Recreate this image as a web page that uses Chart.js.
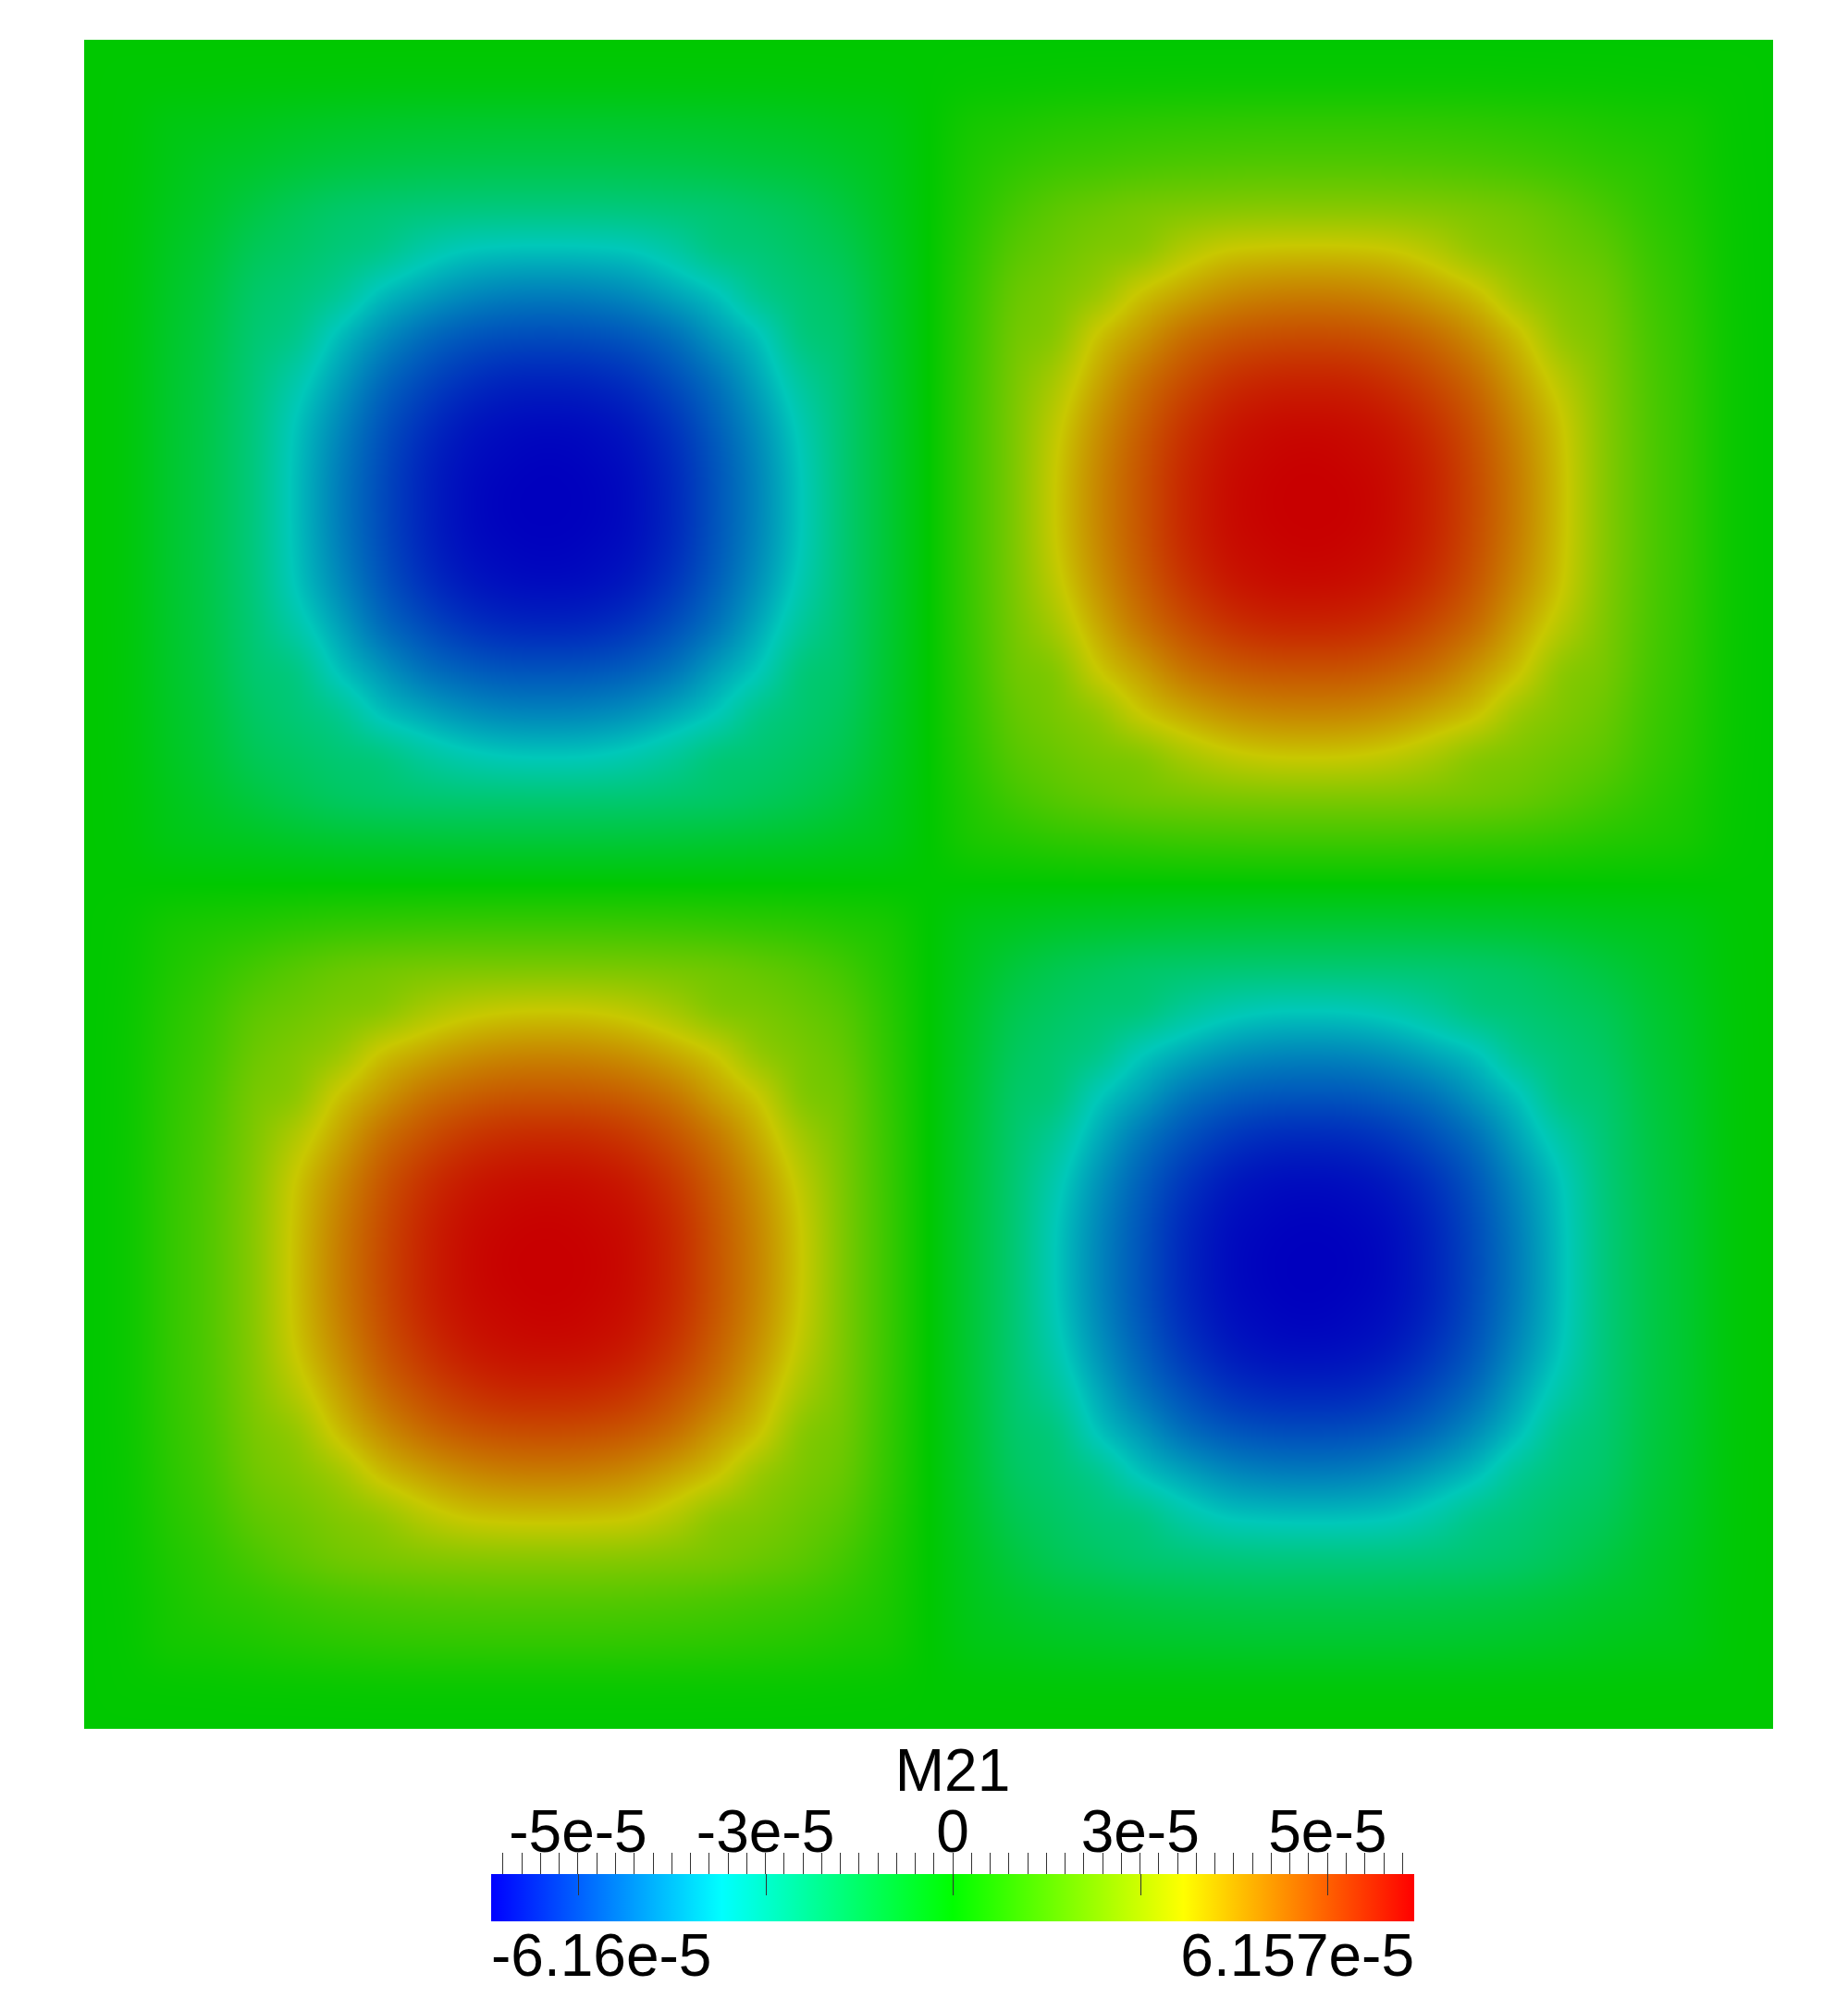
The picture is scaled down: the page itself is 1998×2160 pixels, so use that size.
<!DOCTYPE html>
<html>
<head>
<meta charset="utf-8">
<title>M21</title>
<script src="https://cdn.jsdelivr.net/npm/chart.js@4"></script>
<style>
    html, body { margin: 0; padding: 0; background: #fff; }
    #wrap { position: relative; width: 1998px; height: 2160px; overflow: hidden; }
    canvas { position: absolute; left: 0; }
</style>
</head>
<body>
<div id="wrap">
    <canvas id="fieldChart" width="1998" height="2160" style="top:0"></canvas>
    <canvas id="barChart" width="1998" height="290" style="top:1870px"></canvas>
</div>
<script>
// grid nodes of the field (fraction of the square side)
const gridNodes = [0, 0.025, 0.05, 0.075, 0.1, 0.125, 0.15, 0.175, 0.2, 0.225, 0.25, 0.275, 0.3, 0.325, 0.35, 0.375, 0.4, 0.425, 0.45, 0.475, 0.5,
    0.525, 0.55, 0.575, 0.6, 0.625, 0.65, 0.675, 0.7, 0.725, 0.75, 0.775, 0.8, 0.825, 0.85, 0.875, 0.9, 0.925, 0.95, 0.975, 1];

// M21, in units of 1e-7, one row per node from the top
const m21Rows = [
    [0,0,0,0,0,0,0,0,0,0,0,0,0,0,0,0,0,0,0,0,0,0,0,0,0,0,0,0,0,0,0,0,0,0,0,0,0,0,0,0,0],
    [0,-3,-6,-8,-11,-13,-15,-17,-18,-18,-18,-18,-18,-18,-17,-16,-15,-13,-10,-7,0,7,10,13,15,16,17,18,18,18,18,18,18,17,15,13,11,8,6,3,0],
    [0,-6,-26,-34,-43,-53,-61,-67,-71,-73,-74,-74,-74,-72,-69,-65,-59,-52,-41,-29,0,29,41,52,59,65,69,72,74,74,74,73,71,67,61,53,43,34,26,6,0],
    [0,-8,-34,-57,-73,-91,-106,-116,-123,-127,-129,-129,-129,-126,-121,-113,-102,-90,-70,-42,0,42,70,90,102,113,121,126,129,129,129,127,123,116,106,91,73,57,34,8,0],
    [0,-11,-43,-73,-110,-142,-168,-184,-198,-206,-209,-209,-209,-204,-194,-180,-161,-138,-102,-53,0,53,102,138,161,180,194,204,209,209,209,206,198,184,168,142,110,73,43,11,0],
    [0,-13,-53,-91,-142,-170,-200,-229,-277,-309,-320,-322,-319,-308,-272,-218,-195,-165,-130,-66,0,66,130,165,195,218,272,308,319,322,320,309,277,229,200,170,142,91,53,13,0],
    [0,-15,-61,-106,-168,-200,-246,-319,-365,-398,-415,-419,-414,-396,-359,-311,-237,-190,-154,-77,0,77,154,190,237,311,359,396,414,419,415,398,365,319,246,200,168,106,61,15,0],
    [0,-17,-67,-116,-184,-229,-319,-392,-444,-477,-493,-497,-492,-475,-439,-379,-312,-212,-169,-83,0,83,169,212,312,379,439,475,492,497,493,477,444,392,319,229,184,116,67,17,0],
    [0,-18,-71,-123,-198,-277,-365,-444,-497,-534,-554,-558,-553,-533,-491,-433,-354,-256,-181,-88,0,88,181,256,354,433,491,533,553,558,554,534,497,444,365,277,198,123,71,18,0],
    [0,-18,-73,-127,-206,-309,-398,-477,-534,-573,-591,-596,-591,-571,-528,-464,-386,-288,-188,-91,0,91,188,288,386,464,528,571,591,596,591,573,534,477,398,309,206,127,73,18,0],
    [0,-18,-74,-129,-209,-320,-415,-493,-554,-591,-607,-613,-607,-589,-547,-481,-403,-304,-190,-92,0,92,190,304,403,481,547,589,607,613,607,591,554,493,415,320,209,129,74,18,0],
    [0,-18,-74,-129,-209,-322,-419,-497,-558,-596,-613,-616,-612,-594,-552,-484,-407,-308,-191,-92,0,92,191,308,407,484,552,594,612,616,613,596,558,497,419,322,209,129,74,18,0],
    [0,-18,-74,-129,-209,-319,-414,-492,-553,-591,-607,-612,-606,-589,-547,-480,-402,-304,-190,-92,0,92,190,304,402,480,547,589,606,612,607,591,553,492,414,319,209,129,74,18,0],
    [0,-18,-72,-126,-204,-308,-396,-475,-533,-571,-589,-594,-589,-569,-526,-463,-384,-286,-186,-90,0,90,186,286,384,463,526,569,589,594,589,571,533,475,396,308,204,126,72,18,0],
    [0,-17,-69,-121,-194,-272,-359,-439,-491,-528,-547,-552,-547,-526,-486,-428,-349,-251,-177,-87,0,87,177,251,349,428,486,526,547,552,547,528,491,439,359,272,194,121,69,17,0],
    [0,-16,-65,-113,-180,-218,-311,-379,-433,-464,-481,-484,-480,-463,-428,-367,-301,-204,-165,-81,0,81,165,204,301,367,428,463,480,484,481,464,433,379,311,218,180,113,65,16,0],
    [0,-15,-59,-102,-161,-195,-237,-312,-354,-386,-403,-407,-402,-384,-349,-301,-227,-185,-148,-74,0,74,148,185,227,301,349,384,402,407,403,386,354,312,237,195,161,102,59,15,0],
    [0,-13,-52,-90,-138,-165,-190,-212,-256,-288,-304,-308,-304,-286,-251,-204,-185,-160,-127,-65,0,65,127,160,185,204,251,286,304,308,304,288,256,212,190,165,138,90,52,13,0],
    [0,-10,-41,-70,-102,-130,-154,-169,-181,-188,-190,-191,-190,-186,-177,-165,-148,-127,-96,-51,0,51,96,127,148,165,177,186,190,191,190,188,181,169,154,130,102,70,41,10,0],
    [0,-7,-29,-42,-53,-66,-77,-83,-88,-91,-92,-92,-92,-90,-87,-81,-74,-65,-51,-35,0,35,51,65,74,81,87,90,92,92,92,91,88,83,77,66,53,42,29,7,0],
    [0,0,0,0,0,0,0,0,0,0,0,0,0,0,0,0,0,0,0,0,0,0,0,0,0,0,0,0,0,0,0,0,0,0,0,0,0,0,0,0,0],
    [0,7,29,42,53,66,77,83,88,91,92,92,92,90,87,81,74,65,51,35,0,-35,-51,-65,-74,-81,-87,-90,-92,-92,-92,-91,-88,-83,-77,-66,-53,-42,-29,-7,0],
    [0,10,41,70,102,130,154,169,181,188,190,191,190,186,177,165,148,127,96,51,0,-51,-96,-127,-148,-165,-177,-186,-190,-191,-190,-188,-181,-169,-154,-130,-102,-70,-41,-10,0],
    [0,13,52,90,138,165,190,212,256,288,304,308,304,286,251,204,185,160,127,65,0,-65,-127,-160,-185,-204,-251,-286,-304,-308,-304,-288,-256,-212,-190,-165,-138,-90,-52,-13,0],
    [0,15,59,102,161,195,237,312,354,386,403,407,402,384,349,301,227,185,148,74,0,-74,-148,-185,-227,-301,-349,-384,-402,-407,-403,-386,-354,-312,-237,-195,-161,-102,-59,-15,0],
    [0,16,65,113,180,218,311,379,433,464,481,484,480,463,428,367,301,204,165,81,0,-81,-165,-204,-301,-367,-428,-463,-480,-484,-481,-464,-433,-379,-311,-218,-180,-113,-65,-16,0],
    [0,17,69,121,194,272,359,439,491,528,547,552,547,526,486,428,349,251,177,87,0,-87,-177,-251,-349,-428,-486,-526,-547,-552,-547,-528,-491,-439,-359,-272,-194,-121,-69,-17,0],
    [0,18,72,126,204,308,396,475,533,571,589,594,589,569,526,463,384,286,186,90,0,-90,-186,-286,-384,-463,-526,-569,-589,-594,-589,-571,-533,-475,-396,-308,-204,-126,-72,-18,0],
    [0,18,74,129,209,319,414,492,553,591,607,612,606,589,547,480,402,304,190,92,0,-92,-190,-304,-402,-480,-547,-589,-606,-612,-607,-591,-553,-492,-414,-319,-209,-129,-74,-18,0],
    [0,18,74,129,209,322,419,497,558,596,613,616,612,594,552,484,407,308,191,92,0,-92,-191,-308,-407,-484,-552,-594,-612,-616,-613,-596,-558,-497,-419,-322,-209,-129,-74,-18,0],
    [0,18,74,129,209,320,415,493,554,591,607,613,607,589,547,481,403,304,190,92,0,-92,-190,-304,-403,-481,-547,-589,-607,-613,-607,-591,-554,-493,-415,-320,-209,-129,-74,-18,0],
    [0,18,73,127,206,309,398,477,534,573,591,596,591,571,528,464,386,288,188,91,0,-91,-188,-288,-386,-464,-528,-571,-591,-596,-591,-573,-534,-477,-398,-309,-206,-127,-73,-18,0],
    [0,18,71,123,198,277,365,444,497,534,554,558,553,533,491,433,354,256,181,88,0,-88,-181,-256,-354,-433,-491,-533,-553,-558,-554,-534,-497,-444,-365,-277,-198,-123,-71,-18,0],
    [0,17,67,116,184,229,319,392,444,477,493,497,492,475,439,379,312,212,169,83,0,-83,-169,-212,-312,-379,-439,-475,-492,-497,-493,-477,-444,-392,-319,-229,-184,-116,-67,-17,0],
    [0,15,61,106,168,200,246,319,365,398,415,419,414,396,359,311,237,190,154,77,0,-77,-154,-190,-237,-311,-359,-396,-414,-419,-415,-398,-365,-319,-246,-200,-168,-106,-61,-15,0],
    [0,13,53,91,142,170,200,229,277,309,320,322,319,308,272,218,195,165,130,66,0,-66,-130,-165,-195,-218,-272,-308,-319,-322,-320,-309,-277,-229,-200,-170,-142,-91,-53,-13,0],
    [0,11,43,73,110,142,168,184,198,206,209,209,209,204,194,180,161,138,102,53,0,-53,-102,-138,-161,-180,-194,-204,-209,-209,-209,-206,-198,-184,-168,-142,-110,-73,-43,-11,0],
    [0,8,34,57,73,91,106,116,123,127,129,129,129,126,121,113,102,90,70,42,0,-42,-70,-90,-102,-113,-121,-126,-129,-129,-129,-127,-123,-116,-106,-91,-73,-57,-34,-8,0],
    [0,6,26,34,43,53,61,67,71,73,74,74,74,72,69,65,59,52,41,29,0,-29,-41,-52,-59,-65,-69,-72,-74,-74,-74,-73,-71,-67,-61,-53,-43,-34,-26,-6,0],
    [0,3,6,8,11,13,15,17,18,18,18,18,18,18,17,16,15,13,10,7,0,-7,-10,-13,-15,-16,-17,-18,-18,-18,-18,-18,-18,-17,-15,-13,-11,-8,-6,-3,0],
    [0,0,0,0,0,0,0,0,0,0,0,0,0,0,0,0,0,0,0,0,0,0,0,0,0,0,0,0,0,0,0,0,0,0,0,0,0,0,0,0,0]
];

const rangeMin = -6.16e-5;
const rangeMax = 6.157e-5;
const rangeLabels = ['-6.16e-5', '6.157e-5'];
const majorTicks = [-5e-5, -2.5e-5, 0, 2.5e-5, 5e-5];
const majorLabels = ['-5e-5', '-3e-5', '0', '3e-5', '5e-5'];
const minorTicks = [-6, -5.75, -5.5, -5.25, -5, -4.75, -4.5, -4.25, -4, -3.75, -3.5, -3.25, -3, -2.75, -2.5, -2.25, -2, -1.75, -1.5, -1.25, -1, -0.75, -0.5, -0.25,
    0, 0.25, 0.5, 0.75, 1, 1.25, 1.5, 1.75, 2, 2.25, 2.5, 2.75, 3, 3.25, 3.5, 3.75, 4, 4.25, 4.5, 4.75, 5, 5.25, 5.5, 5.75, 6].map(v => v * 1e-5);

// rainbow map: the colour bar is full bright, the lit surface is a bit darker
const barColors = ['#0000ff', '#00ffff', '#00ff00', '#ffff00', '#ff0000'];
const fieldColors = [[0, 0, 190], [0, 200, 185], [0, 200, 0], [200, 200, 0], [200, 0, 0]];

const fontFamily = '"Liberation Sans", Arial, sans-serif';

function fieldColor(v) {
    let f = (v * 1e-7 - rangeMin) / (rangeMax - rangeMin) * (fieldColors.length - 1);
    f = Math.max(0, Math.min(fieldColors.length - 1.0001, f));
    const i = Math.floor(f);
    const t = f - i;
    const a = fieldColors[i];
    const b = fieldColors[i + 1];
    return [a[0] + (b[0] - a[0]) * t, a[1] + (b[1] - a[1]) * t, a[2] + (b[2] - a[2]) * t];
}

// cubic weights of the nodes around one pixel
function nodeWeights(u) {
    const step = gridNodes[1] - gridNodes[0];
    const n = gridNodes.length;
    const p = Math.max(0, Math.min(n - 1.0001, u / step));
    const i = Math.floor(p);
    const t = p - i;
    return {
        idx: [Math.max(i - 1, 0), i, i + 1, Math.min(i + 2, n - 1)],
        w: [
            0.5 * (-t + 2 * t * t - t * t * t),
            0.5 * (2 - 5 * t * t + 3 * t * t * t),
            0.5 * (t + 4 * t * t - 3 * t * t * t),
            0.5 * (-t * t + t * t * t)
        ]
    };
}

// shades the square between the grid nodes, the way the mesh is shaded in the original
const fieldShading = {
    id: 'fieldShading',
    beforeDatasetsDraw(chart) {
        const area = chart.chartArea;
        const x = chart.scales.x;
        const y = chart.scales.y;
        const w = Math.round(area.right - area.left);
        const h = Math.round(area.bottom - area.top);
        const left = Math.round(area.left);
        const top = Math.round(area.top);
        const ctx = chart.ctx;
        const img = ctx.createImageData(w, h);
        const xw = [];
        for (let px = 0; px < w; px++) {
            xw.push(nodeWeights(x.getValueForPixel(left + px + 0.5)));
        }
        let o = 0;
        for (let py = 0; py < h; py++) {
            const yw = nodeWeights(y.getValueForPixel(top + py + 0.5));
            const rows = yw.idx.map(i => m21Rows[i]);
            for (let px = 0; px < w; px++) {
                const c = xw[px];
                let v = 0;
                for (let a = 0; a < 4; a++) {
                    const row = rows[a];
                    v += yw.w[a] * (c.w[0] * row[c.idx[0]] + c.w[1] * row[c.idx[1]] + c.w[2] * row[c.idx[2]] + c.w[3] * row[c.idx[3]]);
                }
                const rgb = fieldColor(v);
                img.data[o++] = rgb[0];
                img.data[o++] = rgb[1];
                img.data[o++] = rgb[2];
                img.data[o++] = 255;
            }
        }
        ctx.putImageData(img, left, top);
    }
};

const fieldPoints = [];
m21Rows.forEach((row, r) => {
    row.forEach((v, c) => {
        fieldPoints.push({ x: gridNodes[c], y: gridNodes[r], v: v });
    });
});

new Chart(document.getElementById('fieldChart'), {
    type: 'scatter',
    data: { datasets: [{ label: 'M21', data: fieldPoints, pointRadius: 0 }] },
    options: {
        responsive: false,
        animation: false,
        devicePixelRatio: 1,
        layout: { padding: { left: 91, right: 81, top: 43, bottom: 291 } },
        plugins: { legend: { display: false }, tooltip: { enabled: false } },
        scales: {
            x: { type: 'linear', min: 0, max: 1, display: false },
            y: { type: 'linear', min: 0, max: 1, reverse: true, display: false }
        }
    },
    plugins: [fieldShading]
});

// the long ticks run from the labels down into the colour bar
const longTicks = {
    id: 'longTicks',
    afterDatasetsDraw(chart) {
        const ctx = chart.ctx;
        const area = chart.chartArea;
        ctx.save();
        ctx.strokeStyle = '#333';
        ctx.lineWidth = 1;
        ctx.beginPath();
        majorTicks.forEach(v => {
            const px = Math.round(chart.scales.x.getPixelForValue(v)) + 0.5;
            ctx.moveTo(px, area.top);
            ctx.lineTo(px, area.top + 23);
        });
        ctx.stroke();
        ctx.restore();
    }
};

new Chart(document.getElementById('barChart'), {
    type: 'bar',
    data: {
        labels: ['M21'],
        datasets: [{
            data: [[rangeMin, rangeMax]],
            barPercentage: 1,
            categoryPercentage: 1,
            backgroundColor(ctx) {
                const area = ctx.chart.chartArea;
                if (!area) return barColors[2];
                const g = ctx.chart.ctx.createLinearGradient(area.left, 0, area.right, 0);
                barColors.forEach((c, i) => g.addColorStop(i / (barColors.length - 1), c));
                return g;
            }
        }]
    },
    options: {
        indexAxis: 'y',
        responsive: false,
        animation: false,
        devicePixelRatio: 1,
        layout: { padding: { left: 531, right: 469, top: 10, bottom: 0 } },
        plugins: {
            legend: { display: false },
            tooltip: { enabled: false },
            title: {
                display: true,
                text: 'M21',
                color: '#000',
                font: { family: fontFamily, size: 64, weight: 'normal' },
                padding: { top: 0, bottom: -6.8 }
            }
        },
        scales: {
            x: {
                type: 'linear',
                position: 'top',
                min: rangeMin,
                max: rangeMax,
                afterBuildTicks(scale) {
                    scale.ticks = minorTicks.map(v => ({ value: v }));
                },
                afterFit(scale) {
                    scale.height = 76;
                },
                grid: { drawOnChartArea: false, drawTicks: true, tickLength: 23, color: '#333', lineWidth: 1 },
                border: { display: false },
                ticks: {
                    color: '#000',
                    font: { family: fontFamily, size: 64 },
                    padding: -20,
                    autoSkip: false,
                    maxRotation: 0,
                    minRotation: 0,
                    callback(value) {
                        const i = majorTicks.findIndex(m => Math.abs(m - value) < 1e-9);
                        return i < 0 ? '' : majorLabels[i];
                    }
                }
            },
            x2: {
                type: 'linear',
                axis: 'x',
                position: 'bottom',
                min: rangeMin,
                max: rangeMax,
                afterBuildTicks(scale) {
                    scale.ticks = [{ value: rangeMin }, { value: rangeMax }];
                },
                grid: { display: false, drawTicks: false },
                border: { display: false },
                ticks: {
                    color: '#000',
                    font: { family: fontFamily, size: 64 },
                    padding: 3,
                    align: 'inner',
                    autoSkip: false,
                    maxRotation: 0,
                    minRotation: 0,
                    callback(value) {
                        return value < 0 ? rangeLabels[0] : rangeLabels[1];
                    }
                }
            },
            y: { display: false }
        }
    },
    plugins: [longTicks]
});
</script>
</body>
</html>
